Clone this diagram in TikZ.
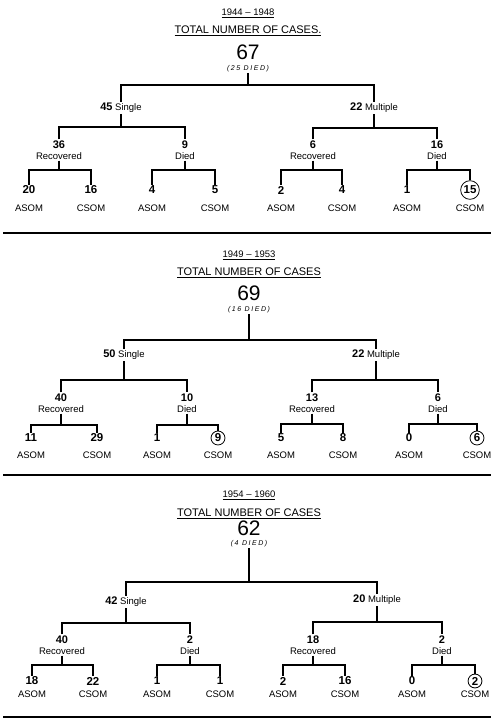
\documentclass[tikz,border=0pt]{standalone}
\usepackage{fontspec}
\setmainfont{Liberation Sans}
\tikzset{
 head/.style={font=\fontsize{9.5}{11}\selectfont,inner sep=1pt},
 title/.style={font=\fontsize{11}{13}\selectfont,inner sep=1pt},
 big/.style={font=\fontsize{21}{24}\selectfont,inner sep=0pt},
 note/.style={font=\fontsize{7}{8}\selectfont\itshape\addfontfeatures{LetterSpace=22},inner sep=0.5pt},
 branch/.style={align=center,font=\fontsize{9.5}{11}\selectfont,inner sep=1pt},
 count/.style={font=\fontsize{11.5}{13}\selectfont\bfseries,inner sep=1pt},
 ring/.style={count,draw,circle,thick,inner sep=1.3pt},
 kind/.style={font=\fontsize{9.5}{11}\selectfont,inner sep=1pt},
 link/.style={line width=1.1pt},
 rule/.style={line width=2pt}
}
\newcommand\fork[4]{%
 \coordinate (bar) at (0,#4);
 \draw[link] (#1.south) -- (#1.south |- bar)
   (#2.north) -- (#2.north |- bar) -- (#3.north |- bar) -- (#3.north);}
\newcommand\nb[1]{{\fontsize{11}{11}\selectfont\bfseries #1}}

\begin{document}
\begin{tikzpicture}[x=1pt,y=-1pt]
\useasboundingbox (0,0) rectangle (494,718);
% 1944 - 1948
\node[head] (yr1) at (248,13) {\underline{1944 -- 1948}};
\node[title] (tot1) at (248,31) {\underline{TOTAL NUMBER OF CASES.}};
\node[big] (num1) at (248,52) {67};
\node[note] (died1) at (248,69) {(25 DIED)};
\node[branch] (sgl1) at (121,108) {\nb{45} Single};
\node[branch] (mlt1) at (374,108) {\nb{22} Multiple};
\node[branch] (srec1) at (59,150) {\nb{36}\\Recovered};
\node[branch] (sdie1) at (185,150) {\nb{9}\\Died};
\node[branch] (mrec1) at (313,150) {\nb{6}\\Recovered};
\node[branch] (mdie1) at (437,150) {\nb{16}\\Died};
\node[count] (a1) at (29,190) {20};
\node[count] (b1) at (91,190) {16};
\node[count] (c1) at (152,190) {4};
\node[count] (d1) at (215,190) {5};
\node[count] (e1) at (281,190) {2};
\node[count] (f1) at (342,190) {4};
\node[count] (g1) at (407,190) {1};
\node[ring] (h1) at (470,190) {15};
\node[kind] (ka1) at (29,208) {ASOM};
\node[kind] (kb1) at (91,208) {CSOM};
\node[kind] (kc1) at (152,208) {ASOM};
\node[kind] (kd1) at (215,208) {CSOM};
\node[kind] (ke1) at (281,208) {ASOM};
\node[kind] (kf1) at (342,208) {CSOM};
\node[kind] (kg1) at (407,208) {ASOM};
\node[kind] (kh1) at (470,208) {CSOM};
\fork{died1}{sgl1}{mlt1}{85}
\fork{sgl1}{srec1}{sdie1}{127}
\fork{mlt1}{mrec1}{mdie1}{128}
\fork{srec1}{a1}{b1}{170}
\fork{sdie1}{c1}{d1}{170}
\fork{mrec1}{e1}{f1}{170}
\fork{mdie1}{g1}{h1}{170}
\draw[rule] (3,233) -- (491,233);
% 1949 - 1953
\node[head] (yr2) at (249,255) {\underline{1949 -- 1953}};
\node[title] (tot2) at (249,273) {\underline{TOTAL NUMBER OF CASES}};
\node[big] (num2) at (249,293) {69};
\node[note] (died2) at (249,310) {(16 DIED)};
\node[branch] (sgl2) at (124,355) {\nb{50} Single};
\node[branch] (mlt2) at (376,355) {\nb{22} Multiple};
\node[branch] (srec2) at (61,403) {\nb{40}\\Recovered};
\node[branch] (sdie2) at (187,403) {\nb{10}\\Died};
\node[branch] (mrec2) at (312,403) {\nb{13}\\Recovered};
\node[branch] (mdie2) at (438,403) {\nb{6}\\Died};
\node[count] (a2) at (31,438) {11};
\node[count] (b2) at (97,438) {29};
\node[count] (c2) at (157,438) {1};
\node[ring] (d2) at (218,438) {9};
\node[count] (e2) at (281,438) {5};
\node[count] (f2) at (343,438) {8};
\node[count] (g2) at (409,438) {0};
\node[ring] (h2) at (477,438) {6};
\node[kind] (ka2) at (31,455) {ASOM};
\node[kind] (kb2) at (97,455) {CSOM};
\node[kind] (kc2) at (157,455) {ASOM};
\node[kind] (kd2) at (218,455) {CSOM};
\node[kind] (ke2) at (281,455) {ASOM};
\node[kind] (kf2) at (343,455) {CSOM};
\node[kind] (kg2) at (409,455) {ASOM};
\node[kind] (kh2) at (477,455) {CSOM};
\fork{died2}{sgl2}{mlt2}{340}
\fork{sgl2}{srec2}{sdie2}{380}
\fork{mlt2}{mrec2}{mdie2}{380}
\fork{srec2}{a2}{b2}{425}
\fork{sdie2}{c2}{d2}{425}
\fork{mrec2}{e2}{f2}{424}
\fork{mdie2}{g2}{h2}{424}
\draw[rule] (3,475) -- (491,475);
% 1954 - 1960
\node[head] (yr3) at (249,495) {\underline{1954 -- 1960}};
\node[title] (tot3) at (249,514) {\underline{TOTAL NUMBER OF CASES}};
\node[big] (num3) at (249,528) {62};
\node[note] (died3) at (249,544) {(4 DIED)};
\node[branch] (sgl3) at (126,602) {\nb{42} Single};
\node[branch] (mlt3) at (377,600) {\nb{20} Multiple};
\node[branch] (srec3) at (62,645) {\nb{40}\\Recovered};
\node[branch] (sdie3) at (190,645) {\nb{2}\\Died};
\node[branch] (mrec3) at (313,645) {\nb{18}\\Recovered};
\node[branch] (mdie3) at (442,645) {\nb{2}\\Died};
\node[count] (a3) at (32,681) {18};
\node[count] (b3) at (93,681) {22};
\node[count] (c3) at (157,681) {1};
\node[count] (d3) at (220,681) {1};
\node[count] (e3) at (283,681) {2};
\node[count] (f3) at (345,681) {16};
\node[count] (g3) at (412,681) {0};
\node[ring] (h3) at (475,681) {2};
\node[kind] (ka3) at (32,694) {ASOM};
\node[kind] (kb3) at (93,694) {CSOM};
\node[kind] (kc3) at (157,694) {ASOM};
\node[kind] (kd3) at (220,694) {CSOM};
\node[kind] (ke3) at (283,694) {ASOM};
\node[kind] (kf3) at (345,694) {CSOM};
\node[kind] (kg3) at (412,694) {ASOM};
\node[kind] (kh3) at (475,694) {CSOM};
\fork{died3}{sgl3}{mlt3}{582}
\fork{sgl3}{srec3}{sdie3}{623}
\fork{mlt3}{mrec3}{mdie3}{622}
\fork{srec3}{a3}{b3}{665}
\fork{sdie3}{c3}{d3}{665}
\fork{mrec3}{e3}{f3}{665}
\fork{mdie3}{g3}{h3}{665}
\draw[rule] (3,716.5) -- (491,716.5);
\end{tikzpicture}
\end{document}
